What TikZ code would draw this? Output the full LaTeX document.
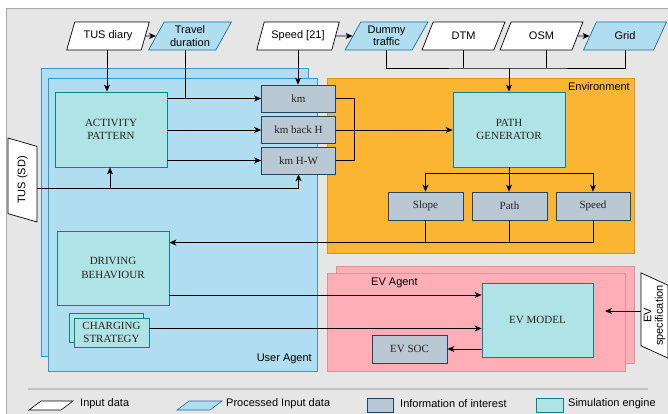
\documentclass[tikz,border=0pt]{standalone}
\usepackage{fontspec}
\setmainfont{Liberation Serif}
\setsansfont{Liberation Sans}
\usetikzlibrary{shapes.geometric,arrows.meta}
\definecolor{bgfill}{HTML}{E6E6E6}
\definecolor{bgdraw}{HTML}{A8A8A8}
\definecolor{procfill}{HTML}{B1DDF0}
\definecolor{procdraw}{HTML}{10739E}
\definecolor{uafill}{HTML}{B1DDF0}
\definecolor{uadraw}{HTML}{3A97C4}
\definecolor{engfill}{HTML}{B0E3E6}
\definecolor{engdraw}{HTML}{0E8088}
\definecolor{infofill}{HTML}{BAC8D3}
\definecolor{infodraw}{HTML}{23445D}
\definecolor{envfill}{HTML}{FCB433}
\definecolor{envdraw}{HTML}{D79B00}
\definecolor{evfill}{HTML}{FFADB6}
\definecolor{evdraw}{HTML}{D6959C}
\definecolor{legline}{HTML}{C2C2C2}
\definecolor{serifcol}{HTML}{222222}
\begin{document}
\begin{tikzpicture}[x=1pt,y=-1pt,
  sansf/.style={font=\sffamily\fontsize{11}{12.5}\selectfont},
  seriff/.style={font=\fontsize{11}{13.5}\selectfont, text=serifcol},
  inp/.style={trapezium, trapezium left angle=60, trapezium right angle=120,
    trapezium stretches=true, draw=black, fill=white, line width=0.7pt,
    minimum width=83, minimum height=28, inner sep=0pt, align=center, sansf},
  proc/.style={inp, fill=procfill, draw=procdraw},
  engbox/.style={draw=engdraw, fill=engfill, line width=0.8pt, align=center, seriff},
  infobox/.style={draw=infodraw, fill=infofill, line width=0.7pt, align=center, seriff,
    minimum width=74, minimum height=27},
  uabox/.style={draw=uadraw, fill=uafill, line width=0.7pt},
  envbox/.style={draw=envdraw, fill=envfill, line width=0.7pt},
  evbox/.style={draw=evdraw, fill=evfill, line width=0.7pt},
  conn/.style={line width=0.8pt, draw=black},
  arr/.style={conn, -{Stealth[length=7pt,width=6pt,inset=2pt]}},
  lab/.style={sansf, inner sep=0pt}
]
\useasboundingbox (0,0) rectangle (668,413);
% background
\draw[fill=bgfill, draw=bgdraw, line width=0.8pt] (6,8) rectangle (672,417);

% containers
\node[uabox, minimum width=267, minimum height=288] (uaback) at (174.5,212) {};
\node[uabox, minimum width=269, minimum height=293] (ua) at (182.5,224.5) {};
\node[lab, anchor=east] (ualab) at (312,359) {User Agent};
\node[envbox, minimum width=307, minimum height=175] (env) at (480.5,165.5) {};
\node[lab, anchor=east] (envlab) at (630,87) {Environment};
\node[evbox, minimum width=298, minimum height=97] (evback) at (485,314.5) {};
\node[evbox, minimum width=298, minimum height=98] (ev) at (476,322) {};
\node[lab, anchor=west] (evlab) at (371,283) {EV Agent};

% top inputs
\node[inp] (tusdiary) at (108,36) {TUS diary};
\node[proc] (travel) at (190,36) {Travel\\duration};
\node[inp] (speed21) at (298,36) {Speed [21]};
\node[proc] (dummy) at (386.5,36) {Dummy\\traffic};
\node[inp] (dtm) at (463.5,36) {DTM};
\node[inp] (osm) at (541.5,36) {OSM};
\node[proc] (grid) at (625,36) {Grid};

% side inputs
\node[inp, rotate=90, minimum width=84, minimum height=29] (tussd) at (22.5,180) {TUS (SD)};
\node[inp, rotate=90, minimum width=83, minimum height=27, font=\sffamily\fontsize{11}{11.5}\selectfont] (evspec) at (654.5,315.5) {EV\\specification};

% engines
\node[engbox, minimum width=112, minimum height=75] (act) at (111,129.5) {ACTIVITY\\PATTERN};
\node[engbox, minimum width=112, minimum height=75] (pathgen) at (509,129.5) {PATH\\GENERATOR};
\node[engbox, minimum width=112, minimum height=74] (drive) at (113,268) {DRIVING\\BEHAVIOUR};
\node[engbox, minimum width=74, minimum height=29] (chargeb) at (106,327.5) {};
\node[engbox, minimum width=75, minimum height=29] (charge) at (111.5,332.5) {CHARGING\\STRATEGY};
\node[engbox, minimum width=111, minimum height=74] (evmodel) at (537.5,320) {EV MODEL};

% info boxes
\node[infobox] (km) at (298.5,98.5) {km};
\node[infobox] (kmback) at (298.5,130) {km back H};
\node[infobox] (kmhw) at (298.5,160.5) {km H-W};
\node[infobox, minimum width=75, minimum height=28] (slope) at (425.5,206) {Slope};
\node[infobox, minimum width=75, minimum height=28] (path) at (509.5,206) {Path};
\node[infobox, minimum width=74, minimum height=28] (speed) at (593,206) {Speed};
\node[infobox, minimum width=75, minimum height=28] (evsoc) at (409.5,349) {EV SOC};

% connectors: top row
\draw[arr] (tusdiary.east) -- (travel.west);
\draw[arr] (speed21.east) -- (dummy.west);
\draw[arr] (osm.east) -- (grid.west);
\draw[arr] ([xshift=-1pt]tusdiary.south) -- ([xshift=-1pt]tusdiary.south |- act.north);
\draw[conn] ([xshift=-5pt]travel.south) -- ([xshift=-5pt]travel.south |- km.west);
\draw[arr] (speed21.south) -- (speed21.south |- km.north);

\coordinate (bus) at (509,68);
\draw[conn] (dummy.south) |- (bus) -| (grid.south);
\draw[conn] (dtm.south) -- (dtm.south |- bus);
\draw[conn] ([xshift=5pt]osm.south) -- ([xshift=5pt]osm.south |- bus);
\draw[arr] (bus) -- (pathgen.north);

% activity -> km
\draw[arr] (act.east |- km.west) -- (km.west);
\draw[arr] (act.east |- kmback.west) -- (kmback.west);
\draw[arr] (act.east |- kmhw.west) -- (kmhw.west);

% TUS (SD)
\coordinate (tl) at ([yshift=-8pt]tussd.south);
\draw[arr] (tl) -| (kmhw.south);
\draw[arr] ([xshift=-1pt]act.south |- tl) -- ([xshift=-1pt]act.south);

% km bracket -> path generator
\draw[conn] (km.east) -- ++(19,0) |- (kmhw.east);
\draw[arr] (kmback.east) -- (kmback.east -| pathgen.west);

% path generator -> slope/path/speed
\draw[arr] (pathgen.south) -- (pathgen.south |- path.north);
\draw[arr] ([yshift=-6pt]pathgen.south) -| (slope.north);
\draw[arr] ([yshift=-6pt]pathgen.south) -| (speed.north);

% slope/path/speed -> driving behaviour
\draw[arr] (speed.south) |- ([yshift=-12pt]drive.north east);
\draw[conn] (slope.south) -- (slope.south |- speed.south) -- ++(0,23);
\draw[conn] (path.south) -- ++(0,23);

% driving / charging -> EV model
\draw[arr] ([yshift=-27pt]drive.east) -- ([yshift=-27pt]drive.east -| evmodel.west);
\draw[arr] ([yshift=4pt]charge.east) -- ([yshift=4pt]charge.east -| evmodel.west);
\draw[arr] (evmodel.west |- evsoc.east) -- (evsoc.east);

% EV specification
\coordinate (evin) at (605,311);
\draw[arr] (evspec.north |- evin) -- (evin);

% legend
\coordinate (lg1) at (28,389);
\coordinate (lg2) at (648,389);
\draw[legline, line width=1.6pt] (lg1) -- (lg2);
\draw[draw=black, fill=white, line width=0.6pt] (29,410) -- (61,410) -- (73,401) -- (41,401) -- cycle;
\node[lab, anchor=west] (leg1t) at (80,404) {Input data};
\draw[draw=procdraw, fill=procfill, line width=0.6pt] (177,410) -- (210,410) -- (222,401) -- (189,401) -- cycle;
\node[lab, anchor=west] (leg2t) at (226,404) {Processed Input data};
\node[draw=infodraw, fill=infofill, line width=0.7pt, minimum width=26, minimum height=14, inner sep=0pt] (leg3) at (380,405) {};
\node[lab, anchor=west] (leg3t) at (400,404) {Information of interest};
\node[draw=engdraw, fill=engfill, line width=0.7pt, minimum width=27, minimum height=14, inner sep=0pt] (leg4) at (549.5,405) {};
\node[lab, anchor=west] (leg4t) at (568,404) {Simulation engine};
\end{tikzpicture}
\end{document}
